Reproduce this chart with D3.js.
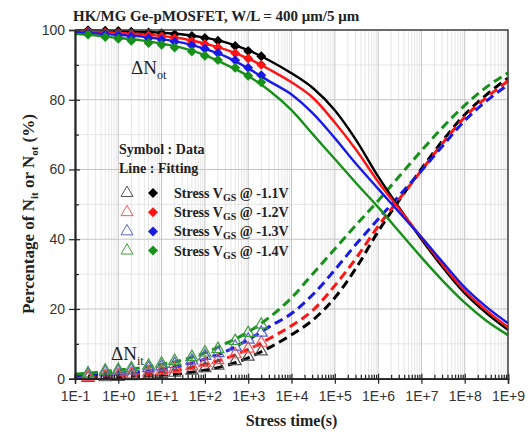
<!DOCTYPE html>
<html>
<head>
<meta charset="utf-8">
<script src="https://cdn.jsdelivr.net/npm/d3@7"></script>
<style>
  body { margin: 0; background: #fff; }
  svg { display: block; }
</style>
</head>
<body>
<div id="chart"></div>
<script>
// stress times of the measured points (s)
const dataTimes = [0.2, 0.5, 1, 2, 5, 10, 20, 50, 100, 200, 500, 1000, 2000]
// times of the fitting curves (s)
const fitTimes = [0.1, 0.316, 1, 3.16, 10, 31.6, 100, 316, 1e3, 3.16e3, 1e4, 3.16e4,
    1e5, 3.16e5, 1e6, 3.16e6, 1e7, 3.16e7, 1e8, 3.16e8, 1e9]

// measured Not (%)
const notData11 = [99.9, 99.8, 99.7, 99.5, 99.3, 99.1, 98.8, 98.3, 97.7, 96.9, 95.4, 94.0, 92.5]
const notData12 = [99.6, 99.3, 99.1, 98.8, 98.4, 98.1, 97.6, 96.8, 96.0, 95.0, 93.3, 91.8, 90.0]
const notData13 = [99.2, 98.8, 98.5, 98.1, 97.6, 97.2, 96.6, 95.6, 94.6, 93.4, 91.3, 89.2, 87.0]
const notData14 = [98.7, 98.0, 97.5, 96.9, 96.3, 95.8, 95.0, 93.8, 92.6, 91.4, 89.2, 86.9, 85.0]
// measured Nit (%)
const nitData11 = [0.2, 0.4, 0.5, 0.7, 1.0, 1.3, 1.7, 2.3, 3.0, 3.7, 5.0, 6.3, 7.8]
const nitData12 = [0.5, 0.8, 1.0, 1.4, 1.8, 2.2, 2.8, 3.6, 4.5, 5.3, 7.0, 8.6, 10.3]
const nitData13 = [1.2, 1.8, 2.0, 2.4, 3.0, 3.5, 4.2, 5.2, 6.5, 7.3, 9.2, 11.2, 13.2]
const nitData14 = [1.5, 2.3, 2.5, 3.0, 3.7, 4.3, 5.1, 6.2, 7.5, 8.5, 10.8, 13.1, 15.5]

// fitting Not (%)
const notFit11 = [99.9, 99.85, 99.7, 99.5, 99.2, 98.7, 97.8, 96.4, 94.2, 91.2, 87.6, 83.3, 77.0, 68.3, 58.0, 48.8, 40.0, 31.8, 24.5, 18.8, 14.0]
const notFit12 = [99.7, 99.5, 99.2, 98.9, 98.3, 97.5, 96.1, 94.3, 91.8, 88.6, 85.0, 80.5, 73.5, 65.5, 56.5, 48.5, 40.5, 32.5, 25.2, 19.6, 14.8]
const notFit13 = [99.3, 99.0, 98.6, 98.2, 97.4, 96.3, 94.6, 92.3, 89.0, 85.2, 81.5, 76.0, 69.0, 61.5, 54.5, 47.5, 40.6, 33.3, 26.2, 20.6, 15.9]
const notFit14 = [98.9, 98.4, 97.7, 97.1, 96.1, 94.8, 92.8, 90.0, 86.8, 82.5, 77.0, 70.0, 63.0, 56.0, 49.2, 42.0, 34.8, 28.0, 21.8, 16.6, 12.5]
// fitting Nit (%)
const nitFit11 = [0.3, 0.35, 0.5, 0.7, 1.0, 1.5, 2.4, 3.8, 6.0, 9.0, 12.6, 16.9, 23.2, 31.9, 42.2, 51.4, 60.2, 68.4, 75.7, 81.4, 86.2]
const nitFit12 = [0.5, 0.7, 1.0, 1.3, 1.9, 2.7, 4.1, 5.9, 8.4, 11.6, 15.2, 19.7, 26.7, 34.7, 43.7, 51.7, 59.7, 67.7, 75.0, 80.6, 85.4]
const nitFit13 = [0.9, 1.2, 1.6, 2.0, 2.8, 3.9, 5.6, 7.9, 11.2, 15.0, 18.7, 24.2, 31.2, 38.7, 45.7, 52.7, 59.6, 66.9, 74.0, 79.6, 84.3]
const nitFit14 = [1.3, 1.8, 2.5, 3.1, 4.1, 5.4, 7.4, 10.2, 13.4, 17.7, 23.2, 30.2, 37.2, 44.2, 51.0, 58.2, 65.4, 72.2, 78.4, 83.6, 87.7]

const biasLabels = ["-1.1V", "-1.2V", "-1.3V", "-1.4V"]
const xTickValues = [1e-1, 1e0, 1e1, 1e2, 1e3, 1e4, 1e5, 1e6, 1e7, 1e8, 1e9]
const xTickLabels = ["1E-1", "1E+0", "1E+1", "1E+2", "1E+3", "1E+4", "1E+5", "1E+6", "1E+7", "1E+8", "1E+9"]
const yTickValues = [0, 20, 40, 60, 80, 100]
const yMinorValues = [10, 30, 50, 70, 90]

const colors = ["#000000", "#ff1414", "#1a1ae6", "#17901a"]
const triColors = ["#555555", "#f05a5a", "#5a64c8", "#3e9e3e"]

const series = [
    {not: notData11, nit: nitData11, notFit: notFit11, nitFit: nitFit11},
    {not: notData12, nit: nitData12, notFit: notFit12, nitFit: nitFit12},
    {not: notData13, nit: nitData13, notFit: notFit13, nitFit: nitFit13},
    {not: notData14, nit: nitData14, notFit: notFit14, nitFit: nitFit14},
]

// DIMENSIONS
const dimensions = {
    width: 532,
    height: 434,
    margin: {top: 30, right: 24, bottom: 55.3, left: 75}
}
dimensions.boundedWidth = dimensions.width - dimensions.margin.left - dimensions.margin.right
dimensions.boundedHeight = dimensions.height - dimensions.margin.top - dimensions.margin.bottom

const wrapper = d3.select("#chart").append("svg")
    .attr("width", dimensions.width)
    .attr("height", dimensions.height)

const bounds = wrapper.append("g")
    .attr("transform", `translate(${dimensions.margin.left},${dimensions.margin.top})`)

// SCALES
const xScale = d3.scaleLog()
    .domain([1e-1, 1e9])
    .range([0, dimensions.boundedWidth])
const yScale = d3.scaleLinear()
    .domain([0, 100])
    .range([dimensions.boundedHeight, 0])

const xMinor = []
xTickValues.slice(0, -1).forEach(d => {
    for (let k = 2; k <= 9; k++) xMinor.push(d * k)
})

// GRID
const grid = bounds.append("g")
grid.selectAll(".xminor").data(xMinor).join("line")
    .attr("x1", d => xScale(d)).attr("x2", d => xScale(d))
    .attr("y1", 0).attr("y2", dimensions.boundedHeight)
    .attr("stroke", "#e0e0e0").attr("stroke-width", 0.8)
grid.selectAll(".yminor").data(yMinorValues).join("line")
    .attr("x1", 0).attr("x2", dimensions.boundedWidth)
    .attr("y1", d => yScale(d)).attr("y2", d => yScale(d))
    .attr("stroke", "#e0e0e0").attr("stroke-width", 0.8)
grid.selectAll(".xmajor").data(xTickValues).join("line")
    .attr("x1", d => xScale(d)).attr("x2", d => xScale(d))
    .attr("y1", 0).attr("y2", dimensions.boundedHeight)
    .attr("stroke", "#c4c4c4").attr("stroke-width", 1)
grid.selectAll(".ymajor").data(yTickValues).join("line")
    .attr("x1", 0).attr("x2", dimensions.boundedWidth)
    .attr("y1", d => yScale(d)).attr("y2", d => yScale(d))
    .attr("stroke", "#c4c4c4").attr("stroke-width", 1)

// FITTING LINES
const lineGen = d3.line()
    .x(d => xScale(d[0]))
    .y(d => yScale(d[1]))
    .curve(d3.curveMonotoneX)

series.forEach((s, i) => {
    bounds.append("path")
        .attr("d", lineGen(fitTimes.map((t, j) => [t, s.nitFit[j]])))
        .attr("fill", "none")
        .attr("stroke", colors[i])
        .attr("stroke-width", 3)
        .attr("stroke-dasharray", "9,5")
})
series.forEach((s, i) => {
    bounds.append("path")
        .attr("d", lineGen(fitTimes.map((t, j) => [t, s.notFit[j]])))
        .attr("fill", "none")
        .attr("stroke", colors[i])
        .attr("stroke-width", 2.4)
})

// DATA SYMBOLS
const diamond = d3.symbol().type(d3.symbolSquare).size(50)()
const triangle = d3.symbol().type(d3.symbolTriangle).size(62)()

series.forEach((s, i) => {
    bounds.append("g").selectAll("path")
        .data(dataTimes.map((t, j) => [t, s.nit[j]]))
        .join("path")
        .attr("d", triangle)
        .attr("transform", d => `translate(${xScale(d[0])},${yScale(d[1])})`)
        .attr("fill", "none")
        .attr("stroke", triColors[i])
        .attr("stroke-width", 1.2)
})
series.forEach((s, i) => {
    bounds.append("g").selectAll("path")
        .data(dataTimes.map((t, j) => [t, s.not[j]]))
        .join("path")
        .attr("d", diamond)
        .attr("transform", d => `translate(${xScale(d[0])},${yScale(d[1])}) rotate(45)`)
        .attr("fill", colors[i])
})

// AXES
const xAxis = bounds.append("g")
    .attr("transform", `translate(0,${dimensions.boundedHeight})`)
    .call(d3.axisBottom(xScale).tickValues(xTickValues).tickSize(5)
        .tickFormat((d, i) => xTickLabels[i]))
xAxis.call(g => g.append("g").call(d3.axisBottom(xScale).tickValues(xTickValues)
    .tickSize(-5).tickFormat("")))
xAxis.call(g => g.append("g").call(d3.axisBottom(xScale).tickValues(xMinor)
    .tickSize(-4).tickFormat("")))
xAxis.selectAll("path.domain").attr("stroke", "#222").attr("stroke-width", 1.5)
xAxis.selectAll(".tick line").attr("stroke", "#222").attr("stroke-width", 1.2)
xAxis.selectAll(".tick text")
    .attr("dy", "1.05em")
    .style("font-family", "'Liberation Sans', Arial, sans-serif")
    .style("font-size", "14px")
    .attr("fill", "#333")

const yAxis = bounds.append("g")
    .call(d3.axisLeft(yScale).tickValues(yTickValues).tickSize(6).tickPadding(4))
yAxis.call(g => g.append("g").call(d3.axisLeft(yScale).tickValues(yTickValues)
    .tickSize(-5).tickFormat("")))
yAxis.call(g => g.append("g").call(d3.axisLeft(yScale).tickValues(yMinorValues)
    .tickSize(-4).tickFormat("")))
yAxis.selectAll("path.domain").attr("stroke", "#222").attr("stroke-width", 1.5)
yAxis.selectAll(".tick line").attr("stroke", "#222").attr("stroke-width", 1.2)
yAxis.selectAll(".tick text")
    .style("font-family", "'Liberation Sans', Arial, sans-serif")
    .style("font-size", "14px")
    .attr("fill", "#333")

// frame top / right
bounds.append("path")
    .attr("d", `M0,0H${dimensions.boundedWidth}V${dimensions.boundedHeight}`)
    .attr("fill", "none")
    .attr("stroke", "#444")
    .attr("stroke-width", 1.5)

// TEXTS
const serif = "'Liberation Serif', 'Times New Roman', serif"

wrapper.append("text")
    .attr("x", 73).attr("y", 21)
    .style("font-family", serif).style("font-weight", "bold").style("font-size", "15px")
    .attr("fill", "#222")
    .text("HK/MG Ge-pMOSFET, W/L = 400 \u03bcm/5 \u03bcm")

wrapper.append("text")
    .attr("x", dimensions.margin.left + dimensions.boundedWidth / 2).attr("y", 426)
    .attr("text-anchor", "middle")
    .style("font-family", serif).style("font-weight", "bold").style("font-size", "16px")
    .attr("fill", "#222")
    .text("Stress time(s)")

const yLabel = wrapper.append("text")
    .attr("transform", "translate(34,214) rotate(-90)")
    .attr("text-anchor", "middle")
    .style("font-family", serif).style("font-weight", "bold").style("font-size", "17px")
    .attr("fill", "#222")
yLabel.append("tspan").text("Percentage of N")
yLabel.append("tspan").attr("dy", 4).style("font-size", "11px").text("it")
yLabel.append("tspan").attr("dy", -4).text(" or N")
yLabel.append("tspan").attr("dy", 4).style("font-size", "11px").text("ot")
yLabel.append("tspan").attr("dy", -4).text(" (%)")

function deltaLabel(x, y, sub) {
    const t = wrapper.append("text")
        .attr("x", x).attr("y", y)
        .style("font-family", serif).style("font-size", "19px")
        .attr("fill", "#222")
    t.append("tspan").text("\u0394N")
    t.append("tspan").attr("dy", 5).style("font-size", "12px").text(sub)
}
deltaLabel(131, 74, "ot")
deltaLabel(111, 360, "it")

// LEGEND
const legend = wrapper.append("g")
legend.append("text").attr("x", 119).attr("y", 154)
    .style("font-family", serif).style("font-weight", "bold").style("font-size", "14px")
    .attr("fill", "#222").text("Symbol : Data")
legend.append("text").attr("x", 119).attr("y", 173)
    .style("font-family", serif).style("font-weight", "bold").style("font-size", "14px")
    .attr("fill", "#222").text("Line : Fitting")

biasLabels.forEach((label, i) => {
    const cy = 193 + 19.2 * i
    legend.append("path").attr("d", triangle)
        .attr("transform", `translate(127,${cy})`)
        .attr("fill", "none").attr("stroke", triColors[i]).attr("stroke-width", 1)
    legend.append("path").attr("d", diamond)
        .attr("transform", `translate(153,${cy}) rotate(45)`)
        .attr("fill", colors[i])
    const t = legend.append("text").attr("x", 174).attr("y", cy + 5)
        .style("font-family", serif).style("font-weight", "bold").style("font-size", "14px")
        .attr("fill", "#222")
    t.append("tspan").text("Stress V")
    t.append("tspan").attr("dy", 3).style("font-size", "10px").text("GS")
    t.append("tspan").attr("dy", -3).text(" @ " + label)
})
</script>
</body>
</html>
